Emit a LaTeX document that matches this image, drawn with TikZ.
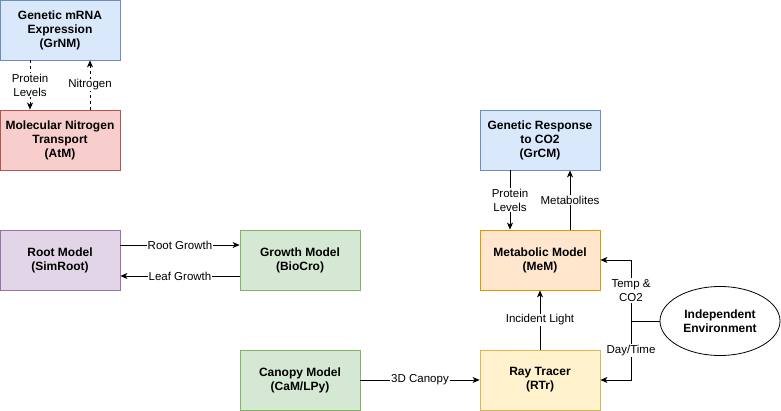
\documentclass[tikz,border=0pt]{standalone}
\usepackage{fontspec}
\setmainfont{Liberation Sans}
\usetikzlibrary{arrows.meta,shapes.geometric}
\definecolor{bluef}{HTML}{DAE8FC}\definecolor{blued}{HTML}{6C8EBF}
\definecolor{redf}{HTML}{F8CECC}\definecolor{redd}{HTML}{B85450}
\definecolor{purf}{HTML}{E1D5E7}\definecolor{purd}{HTML}{9673A6}
\definecolor{grnf}{HTML}{D5E8D4}\definecolor{grnd}{HTML}{82B366}
\definecolor{orgf}{HTML}{FFE6CC}\definecolor{orgd}{HTML}{D79B00}
\definecolor{ylwf}{HTML}{FFF2CC}\definecolor{ylwd}{HTML}{D6B656}
\tikzset{
  box/.style={draw, line width=0.8pt, minimum width=120pt, minimum height=60pt, inner sep=0pt,
    align=center, font=\fontsize{12}{14}\selectfont\bfseries},
  bluebox/.style={box, fill=bluef, draw=blued},
  redbox/.style={box, fill=redf, draw=redd},
  purbox/.style={box, fill=purf, draw=purd},
  grnbox/.style={box, fill=grnf, draw=grnd},
  orgbox/.style={box, fill=orgf, draw=orgd},
  ylwbox/.style={box, fill=ylwf, draw=ylwd},
  conn/.style={line width=0.8pt, -{Stealth[length=7pt,width=6pt,inset=2pt]}},
  plain/.style={line width=0.8pt},
  lbl/.style={fill=white, inner sep=1pt, align=center, font=\fontsize{11.5}{14}\selectfont},
}
\begin{document}
\begin{tikzpicture}[x=1pt,y=-1pt]
\useasboundingbox (0,0) rectangle (781,411);
\node[bluebox] (grnm) at (60,30) {Genetic mRNA\\Expression\\(GrNM)};
\node[redbox] (atm) at (60,140) {Molecular Nitrogen\\Transport\\(AtM)};
\node[purbox] (root) at (60,260) {Root Model\\(SimRoot)};
\node[grnbox] (bio) at (300,260) {Growth Model\\(BioCro)};
\node[grnbox] (can) at (300,380) {Canopy Model\\(CaM/LPy)};
\node[ylwbox] (rtr) at (540,380) {Ray Tracer\\(RTr)};
\node[orgbox] (mem) at (540,260) {Metabolic Model\\(MeM)};
\node[bluebox] (grcm) at (540,140) {Genetic Response\\to CO2\\(GrCM)};
\node[draw, ellipse, line width=0.8pt, minimum width=120pt, minimum height=69pt, inner sep=0pt,
  align=center, font=\fontsize{12}{14}\selectfont\bfseries] (env) at (720,321) {Independent\\Environment};
\coordinate (j) at (631,321);

\draw[conn, dashed] (grnm.south -| 30,0) -- node[lbl]{Protein\\Levels} (atm.north -| 30,0);
\draw[conn, dashed] (atm.north -| 90,0) -- node[lbl]{Nitrogen} (grnm.south -| 90,0);
\draw[conn] (root.east |- 0,245) -- node[lbl]{Root Growth} (bio.west |- 0,245);
\draw[conn] (bio.west |- 0,276) -- node[lbl]{Leaf Growth} (root.east |- 0,276);
\draw[conn] (can.east) -- node[lbl]{3D Canopy} (rtr.west);
\draw[conn] (rtr.north) -- node[lbl]{Incident Light} (mem.south);
\draw[conn] (grcm.south -| 510,0) -- node[lbl]{Protein\\Levels} (mem.north -| 510,0);
\draw[conn] (mem.north -| 570,0) -- node[lbl]{Metabolites} (grcm.south -| 570,0);
\draw[plain] (env.west) -- (j);
\draw[conn] (j) -- node[lbl]{Temp \&\\CO2} (j |- mem.east) -- (mem.east);
\draw[conn] (j) -- node[lbl]{Day/Time} (j |- rtr.east) -- (rtr.east);
\end{tikzpicture}
\end{document}
